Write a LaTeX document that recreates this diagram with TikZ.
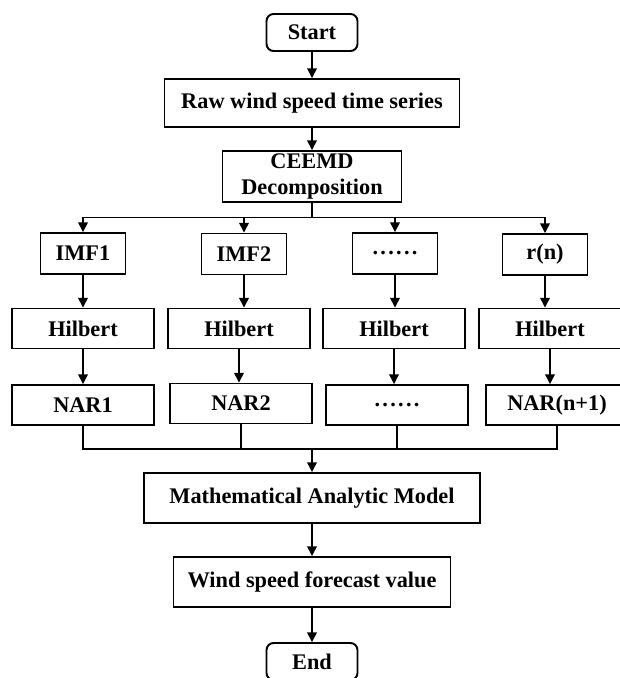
\documentclass[tikz,border=0pt]{standalone}
\usepackage{fontspec}
\setmainfont{Liberation Serif}
\usetikzlibrary{arrows.meta}
\tikzset{>={Triangle[length=5.5pt,width=5.5pt]}}
\newcommand{\sixdots}{.\kern1.3pt.\kern1.3pt.\kern1.3pt.\kern1.3pt.\kern1.3pt.}
\tikzset{
  box/.style={draw, line width=1.1pt, font=\bfseries\fontsize{12.7}{15}\selectfont, align=center, inner sep=1pt},
  term/.style={box, rounded corners=4pt, minimum width=1.82cm, minimum height=0.74cm},
  imf/.style={box, minimum width=1.7cm, minimum height=0.82cm},
  col/.style={box, minimum width=2.84cm, minimum height=0.8cm},
  link/.style={line width=0.8pt}
}

\begin{document}
\begin{tikzpicture}[x=0.02cm, y=-0.02cm]
\useasboundingbox (0,0) rectangle (619,678);

\node[term] (start) at (312,32.5) {Start};
\node[box, minimum width=5.9cm, minimum height=0.96cm] (raw) at (312,103) {Raw wind speed time series};
\node[box, minimum width=3.58cm, minimum height=1.02cm] (ceemd) at (312,176.5) {CEEMD\\Decomposition};

\node[imf] (imf1) at (83,253.5) {IMF1};
\node[imf] (imf2) at (244,254) {IMF2};
\node[imf] (imf3) at (395,253.5) {\sixdots};
\node[imf] (imf4) at (545,254.5) {r(n)};

\node[col] (hil1) at (83,328.5) {Hilbert};
\node[col] (hil2) at (239,328.5) {Hilbert};
\node[col] (hil3) at (394,328.5) {Hilbert};
\node[col] (hil4) at (550,328.5) {Hilbert};

\node[col] (nar1) at (83,405) {NAR1};
\node[col] (nar2) at (241,403.5) {NAR2};
\node[col] (nar3) at (397,405) {\sixdots};
\node[col] (nar4) at (557,405) {NAR(n+1)};

\node[box, minimum width=6.72cm, minimum height=1cm] (model) at (312,498) {Mathematical Analytic Model};
\node[box, minimum width=5.54cm, minimum height=1cm] (value) at (312,582) {Wind speed forecast value};
\node[term] (end) at (312,661.5) {End};

\coordinate (split) at (312,217.5);
\coordinate (merge) at (312,449);

\draw[link,->] (start) -- (raw);
\draw[link,->] (raw) -- (ceemd);
\draw[link] (ceemd) -- (split);

\foreach \i in {1,...,4} {
  \draw[link,->] (split) -| (imf\i.north);
  \draw[link,->] (imf\i) -- (imf\i |- hil\i.north);
  \draw[link,->] (hil\i) -- (hil\i |- nar\i.north);
  \draw[link] (nar\i.south) |- (merge);
}

\draw[link,->] (merge) -- (model);
\draw[link,->] (model) -- (value);
\draw[link,->] (value) -- (end);

\end{tikzpicture}
\end{document}
